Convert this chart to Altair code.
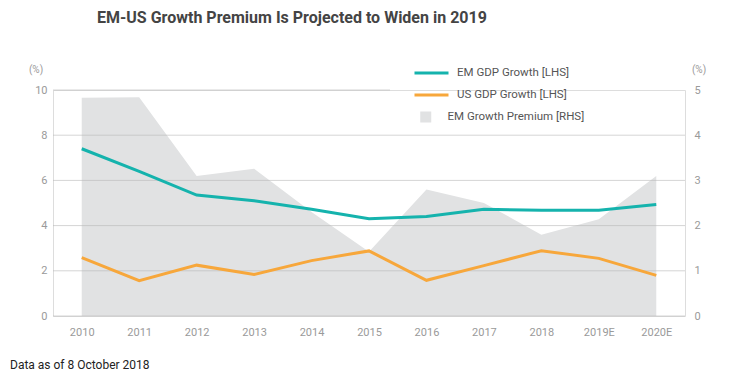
import altair as alt
import pandas as pd

years = ["2010", "2011", "2012", "2013", "2014", "2015", "2016", "2017", "2018", "2019E", "2020E"]
em_growth = [7.4, 6.4, 5.35, 5.1, 4.72, 4.3, 4.4, 4.72, 4.68, 4.68, 4.93]
us_growth = [2.58, 1.56, 2.25, 1.84, 2.45, 2.88, 1.58, 2.23, 2.89, 2.55, 1.8]
premium = [4.83, 4.84, 3.1, 3.26, 2.3, 1.42, 2.8, 2.5, 1.8, 2.14, 3.1]

series_names = ["EM GDP Growth [LHS]", "US GDP Growth [LHS]"]
area_name = "EM Growth Premium [RHS]"
left_ticks = [0, 2, 4, 6, 8, 10]
right_ticks = [0, 1, 2, 3, 4, 5]

title_text = "EM-US Growth Premium Is Projected to Widen in 2019"
note_text = "Data as of 8 October 2018"

lines_df = pd.DataFrame(
    [{"year": y, "series": series_names[0], "value": v} for y, v in zip(years, em_growth)]
    + [{"year": y, "series": series_names[1], "value": v} for y, v in zip(years, us_growth)]
)
area_df = pd.DataFrame({"year": years, "premium": premium, "label": [area_name] * len(years)})
grid_df = pd.DataFrame({"v": left_ticks[:-1]})
grid_top_df = pd.DataFrame({"v": left_ticks[-1:]})

FONT = "Roboto"
LABEL_COLOR = "#9a9a9a"

x_enc = alt.X(
    "year:N",
    sort=years,
    scale=alt.Scale(type="point", padding=0.5),
    axis=alt.Axis(
        title=None, domain=False, ticks=False, grid=False, labelAngle=0,
        labelPadding=10, labelFont=FONT, labelFontSize=11, labelColor=LABEL_COLOR,
    ),
)

area = alt.Chart(area_df).mark_area(opacity=1).encode(
    x=x_enc,
    y=alt.Y(
        "premium:Q",
        scale=alt.Scale(domain=[0, 5], nice=False),
        axis=alt.Axis(
            orient="right", title=None, domain=False, ticks=False, grid=False,
            values=right_ticks, labelPadding=9, labelFont=FONT, labelFontSize=11,
            labelColor=LABEL_COLOR,
        ),
    ),
    fill=alt.Fill(
        "label:N",
        scale=alt.Scale(domain=[area_name], range=["#e1e2e3"]),
        legend=alt.Legend(
            title=None, orient="none", legendX=367, legendY=17, symbolType="square",
            symbolSize=121, symbolStrokeWidth=0, clipHeight=20, labelOffset=16,
            labelFont=FONT, labelFontSize=11.5, labelColor="#555555",
        ),
    ),
)

grid = alt.Chart(grid_df).mark_rule(color="#b8b8b8", opacity=0.6, strokeWidth=1).encode(
    y=alt.Y("v:Q", scale=alt.Scale(domain=[0, 10], nice=False), axis=None),
    x=alt.value(0),
    x2=alt.value("width"),
)

grid_top = alt.Chart(grid_top_df).mark_rule(color="#b8b8b8", opacity=0.6, strokeWidth=1).encode(
    y=alt.Y("v:Q", scale=alt.Scale(domain=[0, 10], nice=False), axis=None),
    x=alt.value(0),
    x2=alt.value(337),
)

lines = alt.Chart(lines_df).mark_line(strokeWidth=3).encode(
    x=x_enc,
    y=alt.Y(
        "value:Q",
        scale=alt.Scale(domain=[0, 10], nice=False),
        axis=alt.Axis(
            orient="left", title=None, domain=False, ticks=False, grid=False,
            values=left_ticks, labelPadding=6, labelFont=FONT, labelFontSize=11,
            labelColor=LABEL_COLOR,
        ),
    ),
    stroke=alt.Stroke(
        "series:N",
        scale=alt.Scale(domain=series_names, range=["#15b3ad", "#f7a73b"]),
        legend=alt.Legend(
            title=None, orient="none", legendX=360, legendY=-27, symbolType="stroke",
            symbolSize=1156, symbolStrokeWidth=3, clipHeight=20, rowPadding=2,
            labelOffset=7, labelFont=FONT, labelFontSize=11.5, labelColor="#555555",
        ),
    ),
    detail="series:N",
)

title = alt.Chart(pd.DataFrame({"t": [title_text]})).mark_text(
    font=FONT, fontSize=16, fontWeight="bold", color="#444444", align="left", baseline="middle"
).encode(text="t:N", x=alt.value(44), y=alt.value(-72))

note = alt.Chart(pd.DataFrame({"t": [note_text]})).mark_text(
    font=FONT, fontSize=12, color="#222222", align="left", baseline="middle"
).encode(text="t:N", x=alt.value(-43), y=alt.value(275))

pct_left = alt.Chart(pd.DataFrame({"t": ["(%)"]})).mark_text(
    font=FONT, fontSize=10, color=LABEL_COLOR, align="center", baseline="middle"
).encode(text="t:N", x=alt.value(-17), y=alt.value(-20))

pct_right = alt.Chart(pd.DataFrame({"t": ["(%)"]})).mark_text(
    font=FONT, fontSize=10, color=LABEL_COLOR, align="center", baseline="middle"
).encode(text="t:N", x=alt.value(646), y=alt.value(-20))

chart = (
    alt.layer(area, grid, grid_top, lines, title, note, pct_left, pct_right)
    .resolve_scale(y="independent", stroke="independent", fill="independent")
    .properties(
        width=632, height=226,
        autosize=alt.AutoSizeParams(type="none"),
        padding={"left": 45, "top": 82, "right": 35, "bottom": 59},
    )
    .configure_view(stroke=None)
    .configure(background="white")
)

chart.save("out.html", embed_options={"renderer": "svg", "actions": False})
